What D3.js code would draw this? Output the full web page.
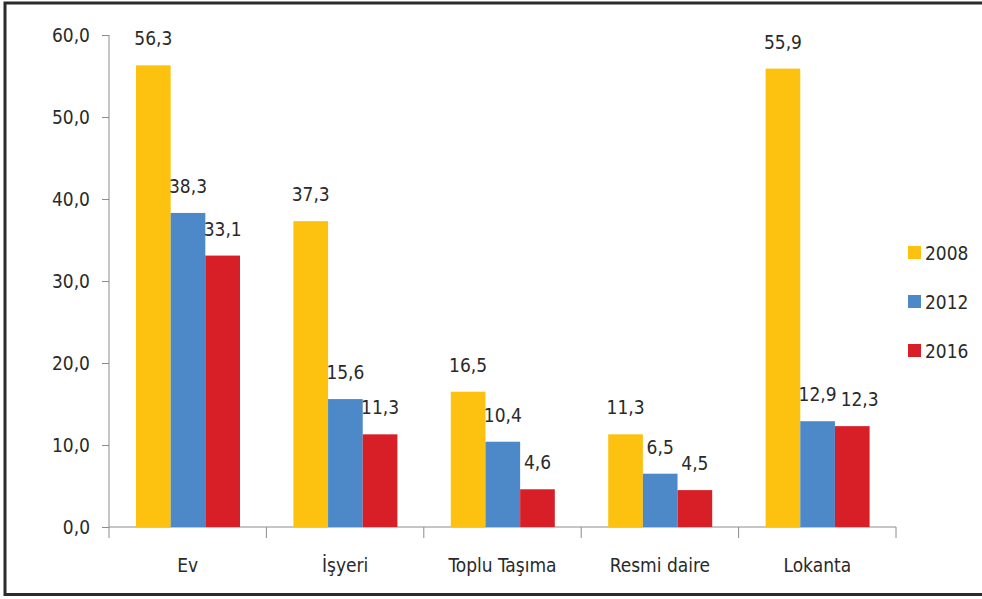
<!DOCTYPE html>
<html lang="tr">
<head>
<meta charset="utf-8">
<title>Chart</title>
<script src="https://d3js.org/d3.v7.min.js"></script>
<style>
  body { margin: 0; background: #fff; }
  svg text { font-family: "DejaVu Sans Condensed", "DejaVu Sans", sans-serif; font-stretch: condensed; fill: #2a2a2a; }
</style>
</head>
<body>
<div id="chart"></div>
<script>
// data
const categories = ["Ev", "İşyeri", "Toplu Taşıma", "Resmi daire", "Lokanta"];
const years = ["2008", "2012", "2016"];
const values2008 = [56.3, 37.3, 16.5, 11.3, 55.9];
const values2012 = [38.3, 15.6, 10.4, 6.5, 12.9];
const values2016 = [33.1, 11.3, 4.6, 4.5, 12.3];
const yTicks = [0, 10, 20, 30, 40, 50, 60];
const colors = ["#FDC20F", "#4D89C8", "#D81F28"];

const series = [values2008, values2012, values2016];
const data = categories.map((c, i) => ({
  cat: c,
  vals: years.map((y, j) => ({ year: y, v: series[j][i], color: colors[j] }))
}));

const W = 982, H = 599;
const FS = 20;       // font size
const SX = 0.95;     // horizontal squeeze, the original font is narrow

const svg = d3.select("#chart").append("svg")
  .attr("width", W).attr("height", H);

// outer frame
svg.append("rect")
  .attr("x", 5).attr("y", 3)
  .attr("width", W + 10).attr("height", 591.5)
  .attr("fill", "none")
  .attr("stroke", "#2b2b2b")
  .attr("stroke-width", 3);

const fmt = v => v.toFixed(1).replace(".", ",");

const x = d3.scaleBand().domain(categories).range([109, 896]);
const x1 = d3.scaleBand().domain(years).range([27, 131]);
const y = d3.scaleLinear().domain([0, 60]).range([527, 35]);

// y axis
const yAxis = svg.append("g")
  .attr("transform", "translate(109,0)")
  .call(d3.axisLeft(y).tickValues(yTicks).tickSize(7).tickPadding(12).tickFormat(fmt));
yAxis.select(".domain").attr("stroke", "#8c8c8c").attr("d", "M0,35V527");
yAxis.selectAll(".tick line").attr("stroke", "#8c8c8c");
yAxis.selectAll(".tick text").attr("font-size", FS);

// x axis
const xAxis = svg.append("g")
  .attr("transform", "translate(0,527)")
  .call(d3.axisBottom(x).tickSize(0).tickPadding(0));
xAxis.select(".domain").attr("stroke", "#8c8c8c").attr("d", "M109,0H896");
xAxis.selectAll(".tick text")
  .attr("y", 45).attr("dy", 0)
  .attr("font-size", FS);
// category separators
const bounds = categories.map(c => x(c)).concat([x.range()[1]]);
xAxis.selectAll(".sep").data(bounds).enter().append("line")
  .attr("x1", d => d).attr("x2", d => d)
  .attr("y1", 0).attr("y2", 11)
  .attr("stroke", "#8c8c8c");

// bars
const groups = svg.selectAll(".grp").data(data).enter().append("g")
  .attr("transform", d => `translate(${x(d.cat)},0)`);

groups.selectAll("rect").data(d => d.vals).enter().append("rect")
  .attr("x", d => x1(d.year))
  .attr("y", d => y(d.v))
  .attr("width", x1.bandwidth())
  .attr("height", d => y(0) - y(d.v))
  .attr("fill", d => d.color);

groups.selectAll(".lbl").data(d => d.vals).enter().append("text")
  .attr("class", "lbl")
  .attr("x", d => x1(d.year) + x1.bandwidth() / 2)
  .attr("y", d => y(d.v) - 20)
  .attr("text-anchor", "middle")
  .attr("font-size", FS)
  .text(d => fmt(d.v));

// legend
const legend = svg.append("g").attr("transform", "translate(908,252)");
const li = legend.selectAll("g").data(years).enter().append("g")
  .attr("transform", (d, i) => `translate(0,${i * 49})`);
li.append("rect")
  .attr("x", 0).attr("y", -6).attr("width", 13).attr("height", 13)
  .attr("fill", (d, i) => colors[i]);
li.append("text")
  .attr("x", 17).attr("y", 8)
  .attr("font-size", FS)
  .text(d => d);

// nudge value labels right when they would run into the one on their left
groups.each(function () {
  let prev = null;
  d3.select(this).selectAll(".lbl").each(function () {
    const t = d3.select(this);
    const w = this.getComputedTextLength() * SX;
    let cx = +t.attr("x");
    const cy = +t.attr("y");
    if (prev && Math.abs(prev.y - cy) < 18 && cx - w / 2 < prev.right + 4) {
      cx = prev.right + 4 + w / 2;
      t.attr("x", cx);
    }
    prev = { right: cx + w / 2, y: cy };
  });
});

// squeeze every text horizontally around its own anchor point
svg.selectAll("text").each(function () {
  const t = d3.select(this);
  const tx = +t.attr("x") || 0, ty = +t.attr("y") || 0;
  t.attr("x", 0).attr("y", 0)
   .attr("transform", `translate(${tx},${ty}) scale(${SX},1)`);
});
</script>
</body>
</html>
